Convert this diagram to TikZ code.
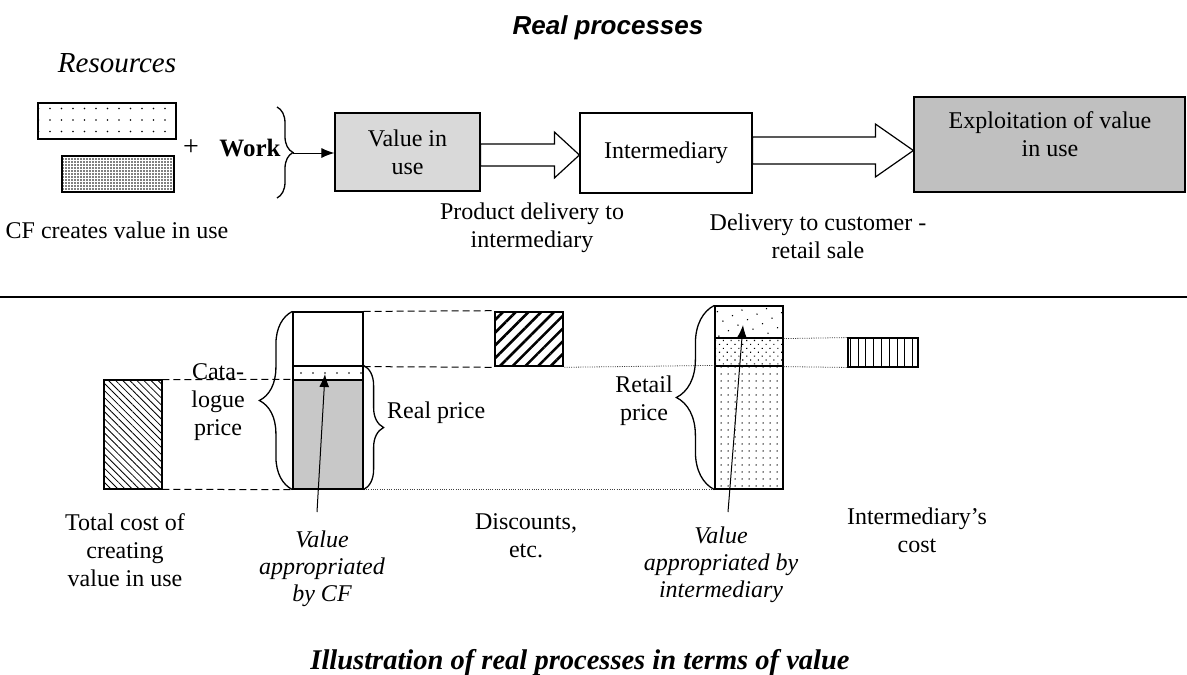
\documentclass[tikz,border=0pt]{standalone}
\usepackage{fontspec}
\setmainfont{Liberation Serif}
\newfontfamily\arialfam{Liberation Sans}
\usetikzlibrary{patterns.meta,decorations.pathreplacing,arrows.meta,calc}
\definecolor{gA}{HTML}{D9D9D9}
\definecolor{gB}{HTML}{C0C0C0}
\definecolor{gC}{HTML}{C8C8C8}
\newcommand\fbody{\fontsize{24}{28}\selectfont}
\newcommand\fital{\fontsize{24}{27}\selectfont\itshape}
\newcommand\ftitle{\arialfam\fontsize{26}{30}\selectfont\bfseries\itshape}
\newcommand\fbot{\fontsize{28.5}{32}\selectfont\bfseries\itshape}
\newcommand\fres{\fontsize{29}{32}\selectfont\itshape}
\tikzset{
  box/.style={draw, line width=1.2pt, inner sep=0pt, align=center},
  bar/.style={draw, line width=1.2pt, inner sep=0pt},
  txt/.style={inner sep=0pt, align=center},
  ptr/.style={line width=1pt, -{Latex[length=13pt,width=10pt]}},
  bigarr/.style={draw, line width=1.2pt, fill=white, line join=miter},
  brc/.style={draw, line width=1.3pt, decorate},
  dashl/.style={line width=1pt, dash pattern=on 7pt off 4pt},
  dotl/.style={line width=0.8pt, dash pattern=on 1pt off 1.3pt, black!75},
}
\begin{document}
\begin{tikzpicture}[x=1pt,y=-1pt,font=\fbody]
\useasboundingbox (0,0) rectangle (1187,675);
% ---------- top part ----------
\node[txt,font=\ftitle] (title) at (608,28) {Real processes};
\node[txt,font=\fres] (res) at (117,63) {Resources};
\node[bar, minimum width=138pt, minimum height=36pt, pattern={Dots[distance=11.5pt,radius=0.8pt,xshift=4pt,yshift=3pt]}] (r1) at (107,121) {};
\node[bar, minimum width=112pt, minimum height=36pt, pattern={Dots[distance=3pt,radius=0.95pt]}] (r2) at (118,174) {};
\node[txt,font=\fontsize{28}{30}\selectfont] (plus) at (191,148) {+};
\node[txt,font=\fontsize{25}{30}\selectfont\bfseries] (work) at (250,148) {Work};
\draw[brc, decoration={brace, amplitude=16pt}] (277,107) -- (277,198);
\coordinate (wt) at (293,153);
\node[txt] (cf) at (117,230) {CF creates value in use};

\node[box, fill=gA, minimum width=145pt, minimum height=78pt] (v) at (407.5,152) {Value in\\use};
\node[box, minimum width=172pt, minimum height=80pt] (i) at (666,153) {Intermediary};
\node[box, fill=gB, minimum width=271pt, minimum height=95pt] (e) at (1049.5,144.5) {};
\node[txt] (et) at (1050,134) {Exploitation of value\\in use};

\draw[ptr] (wt) -- (v.west |- wt);

\coordinate (a1s) at (v.east |- 0,155);
\coordinate (a1e) at (i.west |- 0,155);
\draw[bigarr] ($(a1s)+(0,-11)$) -- ($(a1e)+(-25,-11)$) -- ($(a1e)+(-25,-23)$) -- (a1e)
  -- ($(a1e)+(-25,23)$) -- ($(a1e)+(-25,11)$) -- ($(a1s)+(0,11)$) -- cycle;
\coordinate (a2s) at (i.east |- 0,150.5);
\coordinate (a2e) at (e.west |- 0,150.5);
\draw[bigarr] ($(a2s)+(0,-13.5)$) -- ($(a2e)+(-38,-13.5)$) -- ($(a2e)+(-38,-26.5)$) -- (a2e)
  -- ($(a2e)+(-38,26.5)$) -- ($(a2e)+(-38,13.5)$) -- ($(a2s)+(0,13.5)$) -- cycle;

\node[txt] (pd) at (532,228) {Product delivery to\\intermediary};
\node[txt] (dc) at (818,236) {Delivery to customer -\\retail sale};

\draw[line width=1.3pt] (0,297) -- (1187,297);

% ---------- bottom part ----------
\node[bar, minimum width=58pt, minimum height=109pt, pattern={Lines[angle=-45,distance=5pt,line width=0.8pt]}] (h1) at (133,434.5) {};
\node[bar, minimum width=70pt, minimum height=54pt] (btop) at (328,339) {};
\node[bar, minimum width=70pt, minimum height=14pt] (bdot) at (328,373) {};
\node[bar, fill=gC, minimum width=70pt, minimum height=109pt] (bgray) at (328,434.5) {};
\foreach \x in {301,313,...,361} \fill (\x,373) circle (0.9pt);
\node[bar, minimum width=68pt, minimum height=54pt, pattern={Lines[angle=45,distance=9pt,line width=2.6pt]}] (h2) at (529,339) {};
\node[bar, minimum width=68pt, minimum height=32pt, pattern={Dots[distance=11pt,angle=30,radius=0.8pt]}] (rtop) at (749,322) {};
\node[bar, minimum width=68pt, minimum height=28pt, pattern={Dots[distance=5.5pt,angle=45,radius=0.8pt]}] (rmid) at (749,352) {};
\node[bar, minimum width=68pt, minimum height=123pt, pattern={Dots[distance=7pt,radius=0.75pt]}] (rbot) at (749,427.5) {};
\node[bar, minimum width=70pt, minimum height=29pt, pattern={Lines[angle=90,distance=7.8pt,line width=0.9pt]}] (vl) at (883,352.5) {};

\draw[dashl] (h1.north east) -- (bgray.north west);
\draw[dashl] (h1.south east) -- (bgray.south west);
\draw[dashl] (btop.north east) -- (h2.north west);
\draw[dashl] (btop.south east) -- (h2.south west);
\draw[dotl] (h2.south east) -- (rbot.north west);
\draw[dotl] (bgray.south east) -- (rbot.south west);
\draw[dotl] (rtop.south east) -- (vl.north west);
\draw[dotl] (rmid.south east) -- (vl.south west);

\draw[brc, decoration={brace, amplitude=33pt}] (bgray.south west) -- (btop.north west);
\draw[brc, decoration={brace, amplitude=20pt}] (bdot.north east) -- (bgray.south east);
\draw[brc, decoration={brace, amplitude=38pt}] (rbot.south west) -- (rtop.north west);

\node[txt] (cat) at (218,402) {Cata-\\logue\\price};
\node[txt, anchor=west] (rp) at (387,413) {Real price};
\node[txt] (rtp) at (644,401) {Retail\\price};

\node[txt] (tc) at (125,550) {Total cost of\\creating\\value in use};
\node[txt, font=\fital] (vcf) at (322,569) {Value\\appropriated\\by CF};
\node[txt] (disc) at (526,536) {Discounts,\\etc.};
\node[txt, font=\fital] (vim) at (721,565) {Value\\appropriated by\\intermediary};
\node[txt] (ic) at (917,530) {Intermediary's\\cost};

\coordinate (cfs) at (317,512);
\coordinate (cft) at (325,374);
\draw[ptr] (cfs) -- (cft);
\coordinate (ims) at (728,512);
\coordinate (imt) at (743,325);
\draw[ptr] (ims) -- (imt);

\node[txt, font=\fbot] (cap) at (580,662) {Illustration of real processes in terms of value};
\end{tikzpicture}
\end{document}
